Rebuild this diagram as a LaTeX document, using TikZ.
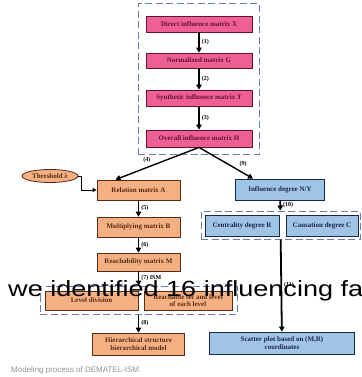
\documentclass[tikz,border=0pt]{standalone}
\usepackage{fontspec}
\setmainfont{Liberation Serif}
\newfontfamily\webfont{Liberation Sans}
\usetikzlibrary{arrows.meta,shapes.geometric}

\definecolor{pinkfill}{RGB}{238,96,148}
\definecolor{pinkline}{RGB}{100,18,48}
\definecolor{orangefill}{RGB}{244,176,130}
\definecolor{orangeline}{RGB}{85,45,20}
\definecolor{bluefill}{RGB}{160,196,230}
\definecolor{blueline}{RGB}{28,38,70}
\definecolor{dashblue}{RGB}{105,125,180}

\tikzset{
  box/.style={draw, line width=0.8pt, inner sep=0pt, align=center,
    font=\fontsize{7}{7.5}\selectfont\bfseries},
  pinkbox/.style={box, fill=pinkfill, draw=pinkline, text=pinkline},
  orangebox/.style={box, fill=orangefill, draw=orangeline, text=orangeline},
  bluebox/.style={box, fill=bluefill, draw=blueline, text=blueline},
  dashgroup/.style={draw=dashblue, dash pattern=on 7pt off 3.5pt, line width=1pt},
  flow/.style={-{Triangle[length=5pt,width=5.5pt]}, line width=1.8pt},
  num/.style={font=\fontsize{6}{6.5}\selectfont\bfseries, inner sep=2pt},
}

\begin{document}
\begin{tikzpicture}[x=1pt, y=-1pt]
    \useasboundingbox (0,0) rectangle (361,377);
    % dashed groups
    \node[dashgroup, minimum width=121, minimum height=150] (g1) at (198.5,79) {};
    \node[dashgroup, minimum width=197, minimum height=28] (g2) at (138.5,300) {};
    \node[dashgroup, minimum width=159, minimum height=28] (g3) at (280.5,225) {};
    % DEMATEL part
    \begin{scope}[every node/.style={pinkbox, minimum width=106}]
        \node[minimum height=16] (X) at (199,24) {Direct influence matrix X};
        \node[minimum height=15] (G) at (199,60.5) {Normalized matrix G};
        \node[minimum height=16] (T) at (199,98) {Synthetic influence matrix T};
        \node[minimum height=17] (H) at (199,138.5) {Overall influence matrix H};
    \end{scope}
    % ISM part
    \begin{scope}[every node/.style={orangebox}]
        \node[ellipse, minimum width=56, minimum height=13, inner sep=0pt] (thr) at (50,176) {Threshold λ};
        \node[minimum width=83, minimum height=20] (A) at (138.5,190) {Relation matrix A};
        \node[minimum width=83, minimum height=20] (B) at (138.5,227) {Multiplying matrix B};
        \node[minimum width=83, minimum height=18] (M) at (138.5,262) {Reachability matrix M};
        \node[minimum width=93, minimum height=19] (L1) at (91.5,300.5) {Level division};
        \node[minimum width=88, minimum height=19] (L2) at (188,300.5) {Reachable set and level\\of each level};
        \node[minimum width=92, minimum height=22] (Hm) at (138.5,344) {Hierarchical structure\\hierarchical model};
    \end{scope}
    % cause and effect part
    \begin{scope}[every node/.style={bluebox}]
        \node[minimum width=89, minimum height=21] (N) at (280,189.5) {Influence degree N/Y};
        \node[minimum width=74, minimum height=21] (R) at (242,225.5) {Centrality degree R};
        \node[minimum width=72, minimum height=21] (C) at (322,225.5) {Causation degree C};
        \node[minimum width=145, minimum height=22] (S) at (282,343) {Scatter plot based on (M,R)\\coordinates};
    \end{scope}
    % arrows
    \path[flow] (X) edge node[num, right] {(1)} (G);
    \path[flow] (G) edge node[num, right] {(2)} (T);
    \path[flow] (T) edge node[num, right] {(3)} (H);
    \path[flow, line width=1.4pt] (H.south) edge node[num, above left, pos=.55] {(4)} ([xshift=-23pt]A.north);
    \path[flow, line width=1.4pt] (H.south) edge node[num, above right, pos=.7] {(9)} ([xshift=-27pt]N.north);
    \draw[-{Triangle[length=4pt,width=4pt]}, line width=0.9pt] (thr.east) -- ++(3,0) |- (A.west);
    \path[flow] (A) edge node[num, right] {(5)} (B);
    \path[flow] (B) edge node[num, right] {(6)} (M);
    \path[flow] (M) edge node[num, right] {(7) ISM} (g2);
    \path[flow] (g2) edge node[num, right] {(8)} (Hm);
    \path[flow] (N) edge node[num, right] {(10)} (g3);
    \path[flow] (g3) edge node[num, right] {(11)} (S);
    % caption and overlay text
    \node[anchor=west, inner sep=0pt, text=gray!85, font=\webfont\fontsize{8}{8}\selectfont] (cap) at (11,370) {Modeling process of DEMATEL-ISM.};
    \node[anchor=base west, inner sep=0pt, xscale=1.23, font=\webfont\fontsize{22}{22}\selectfont] (web) at (8,296) {we identified 16 influencing fa};
\end{tikzpicture}
\end{document}
